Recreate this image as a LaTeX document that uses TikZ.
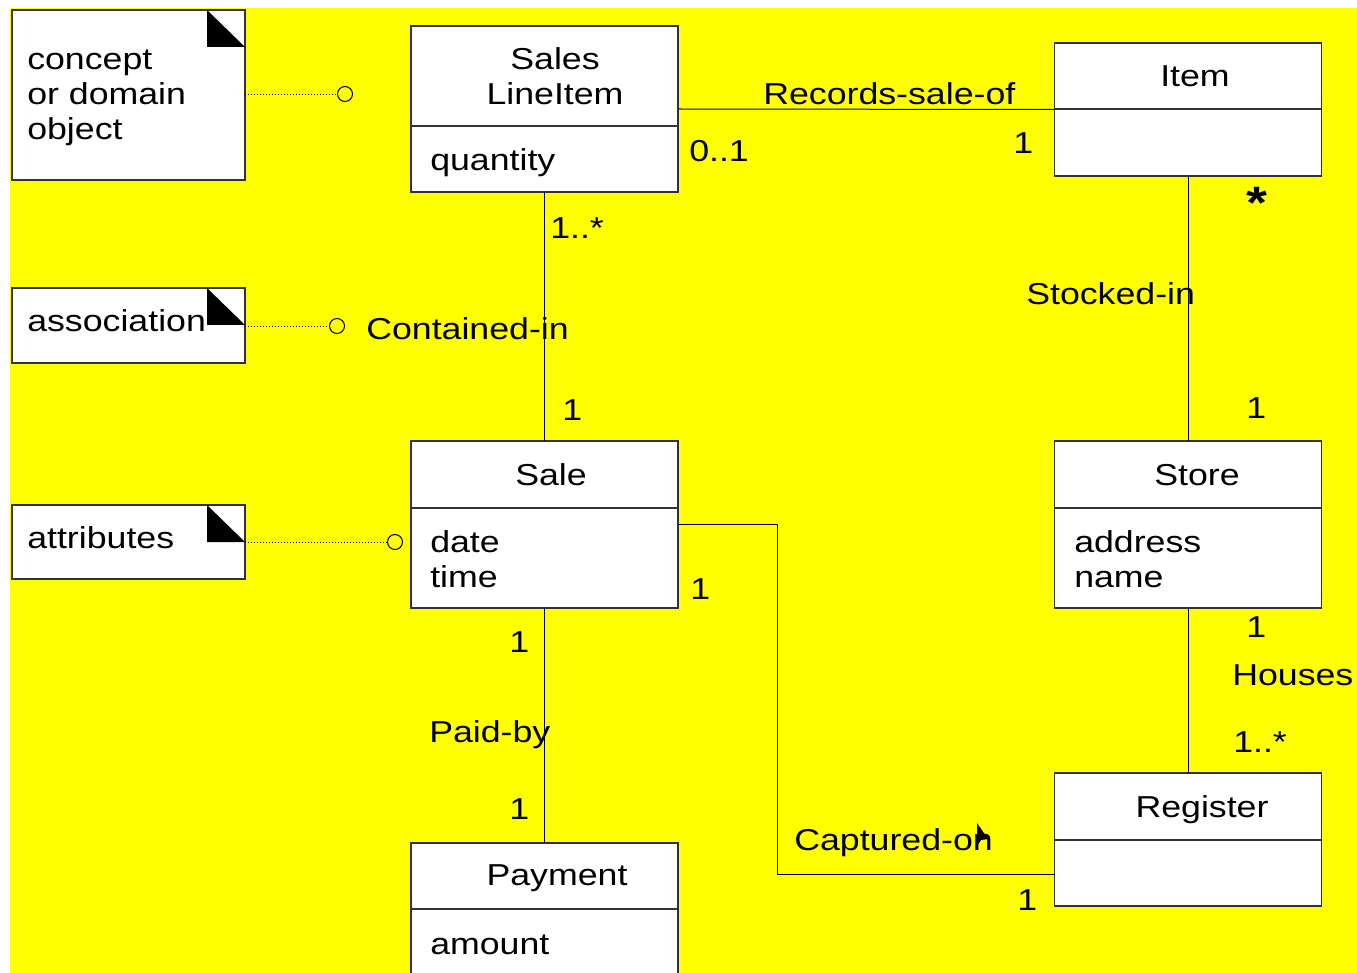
\documentclass[tikz,border=0pt]{standalone}
\usepackage{fontspec}
\setmainfont{Liberation Sans}[FakeStretch=1.18]
\usetikzlibrary{calc}
\definecolor{bgyellow}{RGB}{255,255,0}
\definecolor{boxline}{RGB}{50,50,50}
\begin{document}
\begin{tikzpicture}[x=0.75pt,y=-0.75pt,
  every node/.style={font=\fontsize{22.7}{26.25}\selectfont},
  classbox/.style={draw=boxline,line width=0.8pt,fill=white,rectangle,inner sep=0pt,outer sep=0pt,minimum width=200.25pt},
  notebox/.style={draw=boxline,line width=0.8pt,fill=white,rectangle,inner sep=0pt,outer sep=0pt,minimum width=174.75pt},
  lbl/.style={anchor=base west,inner sep=0pt,align=left,yshift=-1.5pt},
  ctr/.style={anchor=base,inner sep=0pt,align=center,yshift=-1.5pt},
  assoc/.style={draw=black,line width=0.75pt},
  notelink/.style={draw=black,line width=0.6pt,dash pattern=on 0.75pt off 1.5pt},
  hook/.style={circle,draw=black,line width=0.8pt,minimum size=11.25pt,inner sep=0pt},
  corner/.style={fill=black}]

\useasboundingbox (0,0) rectangle (1357,973);
\clip (0,0) rectangle (1357,973);
\fill[white] (0,0) rectangle (1357,973);
\fill[bgyellow] (10,8) rectangle (1357,973);

% ---- note boxes on the left ----
\node[notebox,minimum height=127.5pt] (nconcept) at (128.5,95) {};
\node[notebox,minimum height=56.25pt] (nassoc) at (128.5,325.5) {};
\node[notebox,minimum height=55.5pt] (nattr) at (128.5,542) {};
\foreach \n in {nconcept,nassoc,nattr}{
  \fill[corner] ([xshift=-28.5pt]\n.north east) -- ([xshift=-28.5pt,yshift=-27.75pt]\n.north east)
    -- ([yshift=-27.75pt]\n.north east) -- cycle;
}
% the base anchor of a multi-line text is its last line
\node[lbl] (tconcept) at (27,138) {concept\\or domain\\object};
\node[lbl] (tassoc) at (27,330) {association};
\node[lbl] (tattr) at (27,546) {attributes};

% ---- classes ----
\node[classbox,minimum height=124.5pt] (sli) at (544.5,109) {};
\draw[draw=boxline,line width=0.8pt] ([yshift=-75pt]sli.north west) -- ([yshift=-75pt]sli.north east);
\node[classbox,minimum height=99.75pt] (item) at (1188,109.5) {};
\draw[draw=boxline,line width=0.8pt] ([yshift=-49.5pt]item.north west) -- ([yshift=-49.5pt]item.north east);
\node[classbox,minimum height=125.25pt] (sale) at (544.5,524.5) {};
\draw[draw=boxline,line width=0.8pt] ([yshift=-50.25pt]sale.north west) -- ([yshift=-50.25pt]sale.north east);
\node[classbox,minimum height=125.25pt] (store) at (1188,524.5) {};
\draw[draw=boxline,line width=0.8pt] ([yshift=-50.25pt]store.north west) -- ([yshift=-50.25pt]store.north east);
\node[classbox,minimum height=99.75pt] (reg) at (1188,839.5) {};
\draw[draw=boxline,line width=0.8pt] ([yshift=-50.25pt]reg.north west) -- ([yshift=-50.25pt]reg.north east);
\node[classbox,minimum height=117.75pt] (pay) at (544.5,921.5) {};
\draw[draw=boxline,line width=0.8pt] ([yshift=-49.5pt]pay.north west) -- ([yshift=-49.5pt]pay.north east);

% class names and attributes
\node[ctr] (tsli) at (555,103) {Sales\\LineItem};
\node[lbl] (tqty) at (430,169) {quantity};
\node[ctr] (titem) at (1195,85) {Item};
\node[ctr] (tsale) at (551,483) {Sale};
\node[lbl] (tsaleattr) at (430,585) {date\\time};
\node[ctr] (tstore) at (1197,483) {Store};
\node[lbl] (tstoreattr) at (1074,585) {address\\name};
\node[ctr] (treg) at (1202,815) {Register};
\node[ctr] (tpay) at (557,883) {Payment};
\node[lbl] (tamount) at (430,952) {amount};

% ---- note links ----
\node[hook] (hconcept) at (345,94) {};
\node[hook] (hassoc) at (337,326) {};
\node[hook] (hattr) at (395,542) {};
\draw[notelink] (nconcept.east |- hconcept) -- (hconcept.west);
\draw[notelink] (nassoc.east |- hassoc) -- (hassoc.west);
\draw[notelink] (nattr.east |- hattr) -- (hattr.west);

% ---- associations ----
\draw[assoc] (sli.east) -- (item.west);
\node[lbl] (lrec) at (763,103) {Records-sale-of};
\node[lbl] (mrec1) at (689,160) {0..1};
\node[lbl] (mrec2) at (1013,152) {1};

\draw[assoc] (sli.south) -- (sale.north);
\node[lbl] (mcon1) at (550,237) {1..*};
\node[lbl] (lcon) at (366,338) {Contained-in};
\node[lbl] (mcon2) at (562,419) {1};

\draw[assoc] (item.south) -- (store.north);
\node[inner sep=0pt,scale=1.5] (mstk1) at (1257,203) {\bfseries *};
\node[lbl] (lstk) at (1026,303) {Stocked-in};
\node[lbl] (mstk2) at (1246,417) {1};

\draw[assoc] (store.south) -- (reg.north);
\node[lbl] (mhou1) at (1246,635) {1};
\node[lbl] (lhou) at (1232,683) {Houses};
\node[lbl] (mhou2) at (1233,750) {1..*};

\draw[assoc] (sale.south) -- (pay.north);
\node[lbl] (mpay1) at (509,650) {1};
\node[lbl] (lpay) at (429,740) {Paid-by};
\node[lbl] (mpay2) at (509,817) {1};

\coordinate (capturn) at (777,524.5);
\draw[assoc] (sale.east) -- (capturn) |- ([yshift=24pt]reg.south west);
\node[lbl] (mcap1) at (690,597) {1};
\node[lbl] (lcap) at (794,848) {Captured-on};
\node[lbl] (mcap2) at (1017,908) {1};

% pointer arrow resting on the label
\fill[black] (977,823) -- (977,846) -- (981,840) -- (988,839) -- cycle;
\end{tikzpicture}
\end{document}
